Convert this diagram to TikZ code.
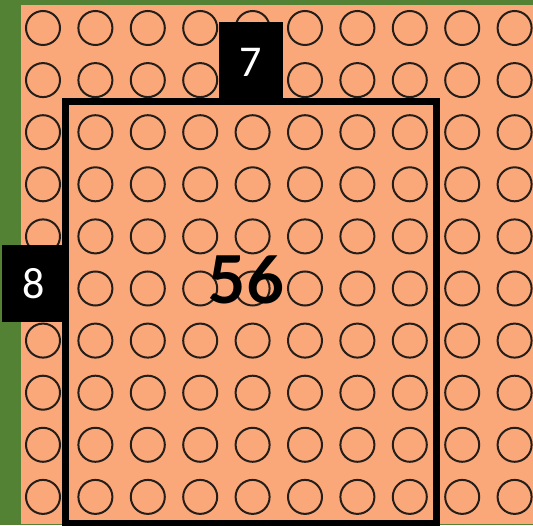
\documentclass[tikz,border=0pt]{standalone}
\usepackage{fontspec}
\setmainfont{Carlito}
\newfontfamily\numfont{Lato}
\definecolor{leaf}{RGB}{84,130,53}
\definecolor{peach}{RGB}{250,168,122}
\definecolor{ink}{RGB}{35,30,26}

\begin{document}
\begin{tikzpicture}[x=1pt,y=1pt,
  tag/.style={fill=black,text=white,inner sep=0pt,minimum width=64pt,font=\fontsize{44}{44}\selectfont}]
  \useasboundingbox (0,0) rectangle (533,525);
  \clip (0,0) rectangle (533,525);
  \fill[leaf] (0,0) rectangle (533,525);
  \fill[peach] (21,1) rectangle (533,520);
  \foreach \i in {0,...,9}
    \foreach \j in {0,...,9}
      \draw[ink,line width=2pt] ({43+52.4*\i},{497-52.1*\j}) circle (17);
  \draw[line width=7pt] (65.5,-5) -- (65.5,423) -- (436.5,423) -- (436.5,-5);
  \draw[line width=6pt] (62,2.5) -- (440,2.5);
  \node[tag,minimum height=80pt] (seven) at (251,463) {7};
  \node[tag,minimum height=77pt] (eight) at (34,241.5) {8};
  \node[font=\numfont\bfseries\fontsize{66}{66}\selectfont] (area) at (246,245) {56};
\end{tikzpicture}
\end{document}
